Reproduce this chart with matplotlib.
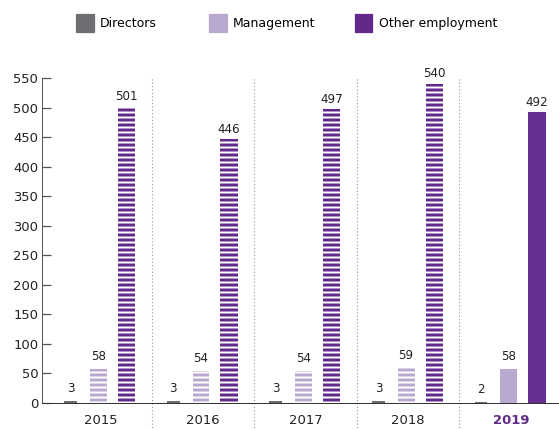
import numpy as np
import matplotlib
matplotlib.use('Agg')
import matplotlib.pyplot as plt
from matplotlib.patches import Patch
from matplotlib.transforms import blended_transform_factory

years = ['2015', '2016', '2017', '2018', '2019']
directors = [3, 3, 3, 3, 2]
management = [58, 54, 54, 59, 58]
other = [501, 446, 497, 540, 492]

series_names = ['Directors', 'Management', 'Other employment']

c_dir = '#6d6e72'
c_mgmt = '#b9a8d0'
c_other = '#62298b'
c_other_solid = '#672f92'

plt.rcParams['font.family'] = 'DejaVu Sans'
plt.rcParams['hatch.linewidth'] = 1.6

fig = plt.figure(figsize=(559 / 90, 430 / 90), dpi=90)
ax = fig.add_axes([0.0751, 0.0628, 0.9249, 0.7558])

x = np.arange(len(years))
striped = x < len(years) - 1

# directors (thin grey bars)
ax.bar(x - 0.29, directors, width=0.125, color=c_dir, linewidth=0)

# management / other: striped for earlier years, solid for the latest one
for xi, m, o, s in zip(x, management, other, striped):
    if s:
        ax.bar(xi - 0.02, m, width=0.165, color=c_mgmt, edgecolor='white',
               hatch='---', linewidth=0)
        ax.bar(xi + 0.255, o, width=0.17, color=c_other, edgecolor='white',
               hatch='---', linewidth=0)
    else:
        ax.bar(xi - 0.02, m, width=0.165, color=c_mgmt, linewidth=0)
        ax.bar(xi + 0.255, o, width=0.17, color=c_other_solid, linewidth=0)

# value labels
for xi, d, m, o in zip(x, directors, management, other):
    ax.text(xi - 0.29, d + 10, str(d), ha='center', va='bottom', fontsize=9.5, color='#222222')
    ax.text(xi - 0.02, m + 10, str(m), ha='center', va='bottom', fontsize=9.5, color='#222222')
    ax.text(xi + 0.255, o + 6, str(o), ha='center', va='bottom', fontsize=9.5, color='#222222')

# dotted separators between years
trans = blended_transform_factory(ax.transData, ax.transAxes)
for sx in x[:-1] + 0.5:
    ax.plot([sx, sx], [-0.09, 1.0], transform=trans, clip_on=False,
            color='#9a9a9a', linestyle=(0, (1, 2)), linewidth=0.9)

ax.set_xlim(-0.57, 4.47)
ax.set_ylim(0, 550)
ax.set_yticks(np.arange(0, 551, 50))
ax.tick_params(axis='y', direction='in', length=7, width=1, color='#555555',
               labelsize=10.5, labelcolor='#222222', pad=3)
ax.set_xticks(x)
ax.set_xticklabels(years, fontsize=10.5, color='#222222')
ax.tick_params(axis='x', length=0, pad=9)
lbl = ax.get_xticklabels()[-1]
lbl.set_fontweight('bold')
lbl.set_color('#5f2a87')

for side in ['top', 'right']:
    ax.spines[side].set_visible(False)
ax.spines['left'].set_color('#555555')
ax.spines['bottom'].set_color('#333333')

# legend entries laid out in fixed-width slots across the top
legend_x = [0.136, 0.374, 0.635]
for name, col, lx in zip(series_names, [c_dir, c_mgmt, c_other], legend_x):
    fig.legend([Patch(color=col)], [name], loc='upper left',
               bbox_to_anchor=(lx, 0.968), frameon=False, fontsize=10,
               handlelength=1.4, handleheight=1.9, handletextpad=0.5,
               borderpad=0, borderaxespad=0)

fig.savefig('out.png', dpi=90)
